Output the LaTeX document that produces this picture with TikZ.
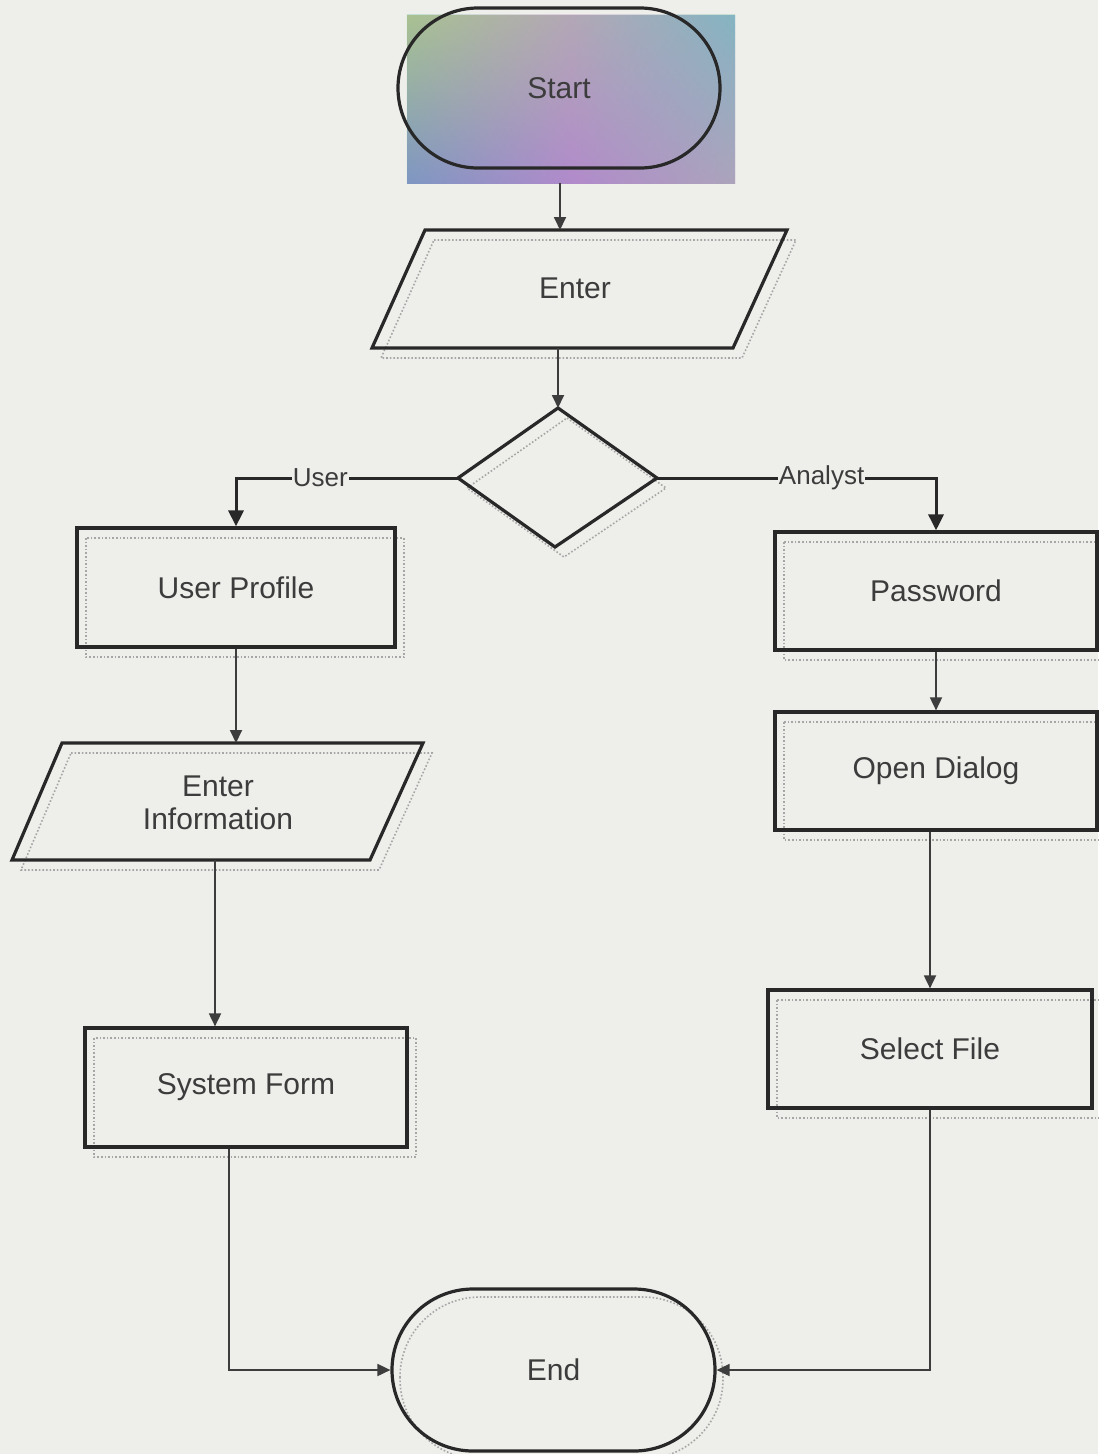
\documentclass[tikz,border=0pt]{standalone}
\usepackage{fontspec}
\newfontfamily\lsans{Liberation Sans}
\usetikzlibrary{arrows.meta,calc,shadings}
\definecolor{paper}{RGB}{238,238,235}
\definecolor{ink}{RGB}{40,40,40}
\definecolor{txt}{RGB}{60,60,60}
\definecolor{cUL}{RGB}{195,190,135}
\definecolor{cUR}{RGB}{140,170,210}
\definecolor{cLL}{RGB}{130,125,210}
\definecolor{cLR}{RGB}{200,145,200}
\definecolor{cMid}{RGB}{120,200,165}
\begin{document}
\begin{tikzpicture}[x=1pt,y=-1pt,
  shapeline/.style={draw=ink,line width=3.2},
  shadowline/.style={draw=black!35,line width=1.6,dotted},
  boxnode/.style={shapeline,rectangle,inner sep=0,font=\lsans\fontsize{30}{35}\selectfont,text=txt,align=center},
  termnode/.style={boxnode},
  txtnode/.style={inner sep=0,font=\lsans\fontsize{30}{35}\selectfont,text=txt,align=center},
  conn/.style={draw=ink!90,line width=1.8,-{Triangle[length=13,width=12]}},
  branch/.style={draw=ink,line width=3,-{Triangle[length=16,width=15]}},
  lbl/.style={fill=paper,inner sep=1,font=\lsans\fontsize{26}{30}\selectfont,text=txt}]
% page
\fill[paper] (0,0) rectangle (1098,1454);
\useasboundingbox (0,0) rectangle (1098,1454);

% ---- shadows (dotted offset copies)
\draw[shadowline] (434,240) -- (796,240) -- (742,358) -- (381,358) -- cycle;
\draw[shadowline] (567,418) -- (666,488) -- (564,557) -- (467,488) -- cycle;
\draw[shadowline] (86,538) rectangle (404,657);
\draw[shadowline] (71,753) -- (432,753) -- (379,870) -- (21,870) -- cycle;
\draw[shadowline] (94,1038) rectangle (416,1157);
\draw[shadowline] (784,542) rectangle (1106,660);
\draw[shadowline] (784,722) rectangle (1106,840);
\draw[shadowline] (777,1000) rectangle (1101,1118);
\draw[shadowline,rounded corners=80] (400,1297) rectangle (723,1459);

% ---- Start (with coloured background)
\node (startbg) [shade,upper left=cUL,upper right=cUR,lower left=cLL,lower right=cLR,
  minimum width=328,minimum height=168,inner sep=0] at (571,99) {};
\shade[left color=cMid,right color=cMid,middle color=cLR,opacity=0.35]
  (startbg.north west) rectangle (startbg.south east);
\node (start) [termnode,rounded corners=80,minimum width=322,minimum height=160] at (559,88) {Start};

% ---- Enter (parallelogram)
\draw[shapeline] (425,230) -- (787,230) -- (733,348) -- (372,348) -- cycle;
\coordinate (enT) at (560,230);
\coordinate (enB) at (558,348);
\node (enter) [txtnode] at (575,288) {Enter};

% ---- Decision (diamond)
\draw[shapeline] (558,408) coordinate (dT) -- (657,478) coordinate (dR)
  -- (555,547) coordinate (dB) -- (458,478) coordinate (dL) -- cycle;

% ---- left branch
\node (up) [boxnode,minimum width=318,minimum height=119] at (236,587.5) {User Profile};
\draw[shapeline] (62,743) -- (423,743) -- (370,860) -- (12,860) -- cycle;
\coordinate (eiT) at (236,743);
\coordinate (eiB) at (215,860);
\node (einfo) [txtnode] at (218,803) {Enter\\[-2pt]Information};
\node (sys) [boxnode,minimum width=322,minimum height=119] at (246,1087.5) {System Form};

% ---- right branch
\node (pw) [boxnode,minimum width=322,minimum height=118] at (936,591) {Password};
\node (od) [boxnode,minimum width=322,minimum height=118] at (936,771) {Open Dialog};
\node (sf) [boxnode,minimum width=324,minimum height=118] at (930,1049) {Select File};

% ---- End
\node (end) [termnode,rounded corners=81,minimum width=323,minimum height=162] at (553.5,1370) {End};

% ---- connectors
\draw[conn] (startbg.south -| enT) -- (enT);
\draw[conn] (enB) -- (dT);
\draw[branch] (dL) -- (dL -| up.north) node[lbl,pos=0.62] {User} -- (up.north);
\draw[branch] (dR) -- (dR -| pw.north) node[lbl,pos=0.59] {Analyst} -- (pw.north);
\draw[conn] (up.south) -- (eiT);
\draw[conn] (eiB) -- (eiB |- sys.north);
\draw[conn] ([xshift=-17]sys.south) |- (end.west);
\draw[conn] (pw.south) -- (od.north);
\draw[conn] (od.south -| sf.north) -- (sf.north);
\draw[conn] (sf.south) |- (end.east);
\end{tikzpicture}
\end{document}
